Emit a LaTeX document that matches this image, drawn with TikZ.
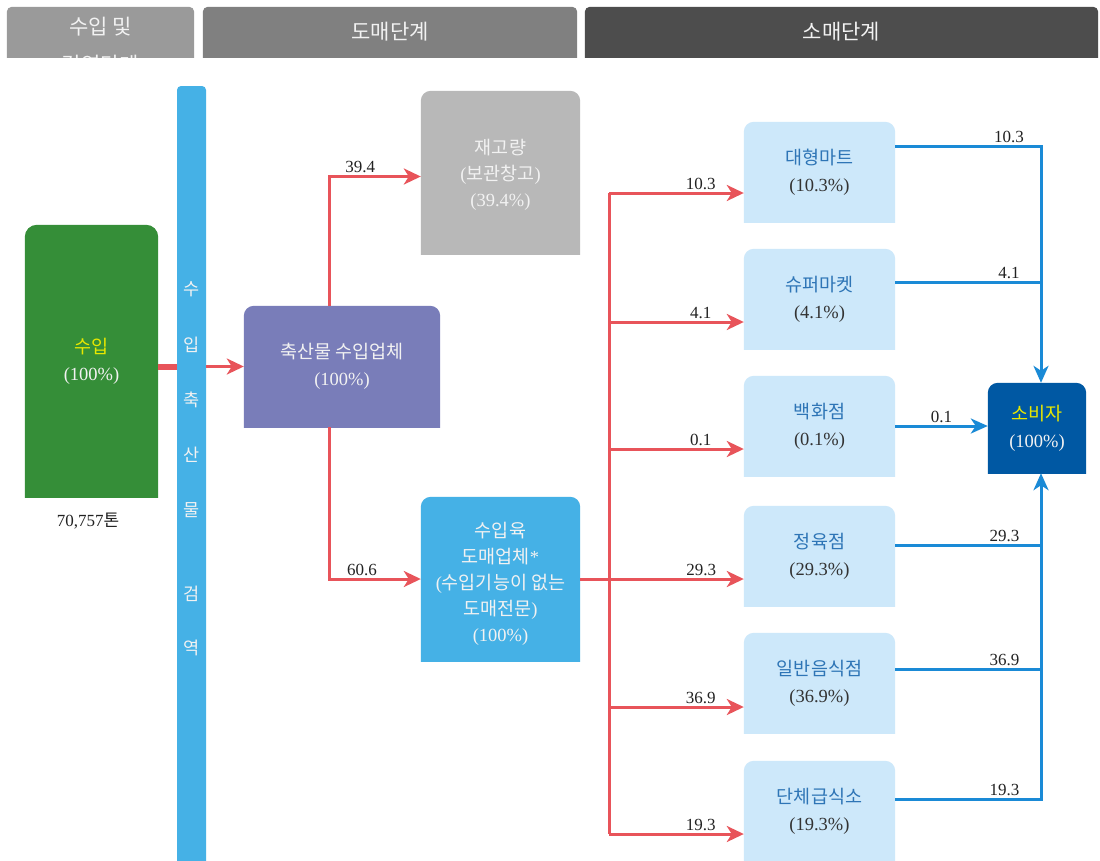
\documentclass[tikz,border=0pt]{standalone}
\usepackage{fontspec}
\setmainfont{Liberation Serif}
\newfontfamily\kr{Noto Sans CJK KR}
\usetikzlibrary{arrows.meta,backgrounds,calc}
\definecolor{hA}{HTML}{9A9A9A}
\definecolor{hB}{HTML}{808080}
\definecolor{hC}{HTML}{4D4D4D}
\definecolor{cgreen}{HTML}{358E38}
\definecolor{cbar}{HTML}{45B1E6}
\definecolor{cred}{HTML}{E8545A}
\definecolor{cpurple}{HTML}{797DB9}
\definecolor{cgray}{HTML}{B8B8B8}
\definecolor{clight}{HTML}{CDE8FA}
\definecolor{cname}{HTML}{2E75B6}
\definecolor{cdark}{HTML}{0058A3}
\definecolor{cline}{HTML}{1A8AD6}
\definecolor{cyel}{HTML}{E8E800}
\definecolor{ctext}{HTML}{222222}
\definecolor{cpct}{HTML}{333333}
\definecolor{cwhite}{HTML}{F2F2F2}
\newcommand\topfill[3]{%
  \begin{scope}[on background layer]
    \begin{scope}
      \clip (#1.south west) rectangle (#1.north east);
      \fill[#2,rounded corners=#3] ([yshift=-20pt]#1.south west) rectangle (#1.north east);
    \end{scope}
  \end{scope}}
\begin{document}
\begin{tikzpicture}[x=1pt,y=-1pt,
  bx/.style={inner sep=0pt, align=center, font=\fontsize{18.5}{27}\selectfont},
  wtxt/.style={bx, text=cwhite},
  rtl/.style={bx, text=cpct, minimum width=151pt, minimum height=100pt},
  htxt/.style={inner sep=0pt, align=center, text=cwhite, font={\kr\fontsize{21}{38}\selectfont}},
  bartxt/.style={inner sep=0pt, text=cwhite, font={\kr\fontsize{17.5}{17.5}\selectfont}},
  lab/.style={inner sep=2pt, text=ctext, font=\fontsize{17}{17}\selectfont},
  redln/.style={draw=cred, line width=3pt},
  redar/.style={redln, -{Stealth[length=17pt,width=16pt,inset=5pt]}},
  redthick/.style={draw=cred, line width=6pt},
  blln/.style={draw=cline, line width=3pt},
  blar/.style={blln, -{Stealth[length=17pt,width=15pt,inset=5pt]}}]
\useasboundingbox (0,0) rectangle (1100,860);
\begin{scope}[on background layer]
  \fill[white] (0,0) rectangle (1100,860);
\end{scope}

% headers
\node[minimum width=187pt, minimum height=50pt, inner sep=0pt] (h1) at (100.5,32) {};
\node[minimum width=374pt, minimum height=50pt, inner sep=0pt] (h2) at (390,32) {};
\node[minimum width=513pt, minimum height=50pt, inner sep=0pt] (h3) at (841.5,32) {};
\topfill{h1}{hA}{5pt}
\topfill{h2}{hB}{5pt}
\topfill{h3}{hC}{5pt}
\begin{scope}
  \clip (h1.south west) rectangle (h1.north east);
  \node[htxt] (h1t) at (100.5,46) {수입 및\\검역단계};
\end{scope}
\node[htxt] (h2t) at (h2.center) {도매단계};
\node[htxt] (h3t) at (h3.center) {소매단계};

% import box
\node[wtxt, minimum width=133pt, minimum height=272pt] (imp) at (91.5,361)
  {{\color{cyel}\kr 수입}\\(100\%)};
\topfill{imp}{cgreen}{12pt}
\node[lab] (ton) at (88,521) {70,757{\kr 톤}};

% red thick arrow (behind bar: split)
\draw[redthick] (imp.east |- 0,367) -- (177,367);

% bar
\node[fill=cbar, rounded corners=4pt, minimum width=29pt, minimum height=780pt, inner sep=0pt] (bar) at (191.5,476) {};
\node[bartxt] (v1) at (191.5,289) {수};
\node[bartxt] (v2) at (191.5,345) {입};
\node[bartxt] (v3) at (191.5,400) {축};
\node[bartxt] (v4) at (191.5,455) {산};
\node[bartxt] (v5) at (191.5,510) {물};
\node[bartxt] (v6) at (191.5,594) {검};
\node[bartxt] (v7) at (191.5,648) {역};

% wholesale
\node[wtxt, minimum width=196pt, minimum height=121pt] (pur) at (342,366.5)
  {{\kr 축산물 수입업체}\\(100\%)};
\topfill{pur}{cpurple}{10pt}
\node[minimum width=159pt, minimum height=163pt, inner sep=0pt] (stock) at (500.5,172.5) {};
\node[wtxt, font=\fontsize{18.5}{26}\selectfont] (stockt) at (500.5,175)
  {{\kr 재고량}\\({\kr 보관창고})\\(39.4\%)};
\topfill{stock}{cgray}{10pt}
\node[minimum width=159pt, minimum height=164pt, inner sep=0pt] (whole) at (500.5,579) {};
\node[wtxt, font=\fontsize{18.5}{26}\selectfont] (wholet) at (500.5,584)
  {{\kr 수입육}\\{\kr 도매업체}*\\({\kr 수입기능이 없는}\\{\kr 도매전문})\\(100\%)};
\topfill{whole}{cbar}{10pt}

% retail
\node[rtl] (r1) at (819.5,172) {{\color{cname}\kr 대형마트}\\(10.3\%)};
\node[rtl] (r2) at (819.5,299) {{\color{cname}\kr 슈퍼마켓}\\(4.1\%)};
\node[rtl] (r3) at (819.5,426) {{\color{cname}\kr 백화점}\\(0.1\%)};
\node[rtl] (r4) at (819.5,556) {{\color{cname}\kr 정육점}\\(29.3\%)};
\node[rtl] (r5) at (819.5,683) {{\color{cname}\kr 일반음식점}\\(36.9\%)};
\node[rtl] (r6) at (819.5,811) {{\color{cname}\kr 단체급식소}\\(19.3\%)};
\topfill{r1}{clight}{10pt}
\topfill{r2}{clight}{10pt}
\topfill{r3}{clight}{10pt}
\topfill{r4}{clight}{10pt}
\topfill{r5}{clight}{10pt}
\topfill{r6}{clight}{10pt}

% consumer
\node[wtxt, minimum width=98pt, minimum height=90pt] (cons) at (1037,428)
  {{\color{cyel}\kr 소비자}\\(100\%)};
\topfill{cons}{cdark}{10pt}

% red connectors
\draw[redar] (bar.east |- pur.west) -- (pur.west);
\draw[redar] ([xshift=-13pt]pur.north) |- ([yshift=-4pt]stock.west) node[lab, pos=0.67, above] {39.4};
\draw[redar] ([xshift=-13pt]pur.south) |- (whole.west) node[lab, pos=0.68, above] {60.6};
\coordinate (t1) at (609,193);
\coordinate (t2) at (609,322);
\coordinate (t3) at (609,449);
\coordinate (t5) at (609,707);
\coordinate (t6) at (609,834);
\draw[redln] (t1) -- (t6);
\draw[redar] (t1) -- (t1 -| r1.west) node[lab, pos=0.68, above] {10.3};
\draw[redar] (t2) -- (t2 -| r2.west) node[lab, pos=0.68, above] {4.1};
\draw[redar] (t3) -- (t3 -| r3.west) node[lab, pos=0.68, above] {0.1};
\draw[redar] (whole.east) -- (whole.east -| r4.west) node[lab, pos=0.74, above] {29.3};
\draw[redar] (t5) -- (t5 -| r5.west) node[lab, pos=0.68, above] {36.9};
\draw[redar] (t6) -- (t6 -| r6.west) node[lab, pos=0.68, above] {19.3};

% blue connectors
\coordinate (vx) at (1041,300);
\draw[blar] ([yshift=26pt]r1.east) -- ([yshift=26pt]r1.east -| vx) node[lab, pos=0.78, above] {10.3}
  -- ([xshift=4pt]cons.north);
\draw[blln] ([yshift=17pt]r2.east) -- ([yshift=17pt]r2.east -| vx) node[lab, pos=0.78, above] {4.1};
\draw[blar] (r3.east) -- (r3.east -| cons.west) node[lab, pos=0.5, above] {0.1};
\draw[blln] ([yshift=11pt]r4.east) -- ([yshift=11pt]r4.east -| vx) node[lab, pos=0.75, above] {29.3};
\draw[blln] ([yshift=14pt]r5.east) -- ([yshift=14pt]r5.east -| vx) node[lab, pos=0.75, above] {36.9};
\draw[blar] ([yshift=12pt]r6.east) -- ([yshift=12pt]r6.east -| vx) node[lab, pos=0.75, above] {19.3}
  -- ([xshift=4pt]cons.south);
\end{tikzpicture}
\end{document}
